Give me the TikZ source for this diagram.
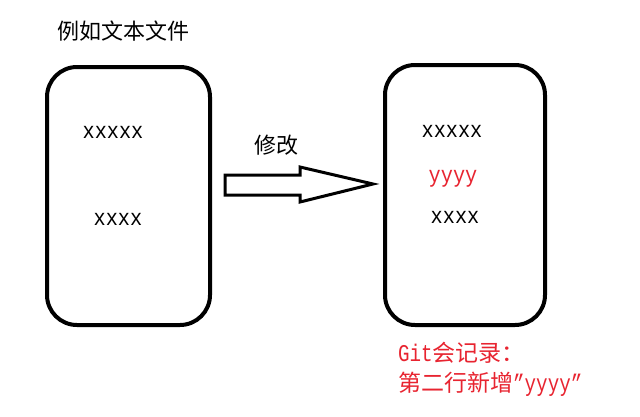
\documentclass[tikz,border=0pt]{standalone}
\usepackage{fontspec}
\setmainfont[FakeStretch=0.88]{Liberation Mono}
\newfontfamily\notemono[FakeStretch=0.8]{Liberation Mono}
\newfontfamily\cjk{Noto Sans CJK SC}
\definecolor{gitred}{RGB}{232,36,48}
\begin{document}
\begin{tikzpicture}[x=1pt,y=-1pt,
  filebox/.style={draw, line width=4pt, rounded corners=30pt, inner sep=0pt},
  code/.style={font=\fontsize{23}{26}\selectfont, inner sep=0pt, anchor=base},
  cjklabel/.style={font=\cjk\fontsize{22}{26}\selectfont, inner sep=0pt},
  note/.style={text=gitred, inner sep=0pt, anchor=base west, font=\notemono\fontsize{24}{26}\selectfont},
  blockarrow/.style={draw, line width=3pt, line join=miter, fill=white}]
\useasboundingbox (0,0) rectangle (640,416);
\fill[white] (0,0) rectangle (640,416);

% file boxes
\node[filebox, minimum width=163pt, minimum height=258pt] (before) at (128.5,196) {};
\node[filebox, minimum width=160pt, minimum height=260pt] (after) at (465,195) {};

% title
\node[cjklabel, anchor=west] (title) at (57,31) {例如文本文件};

% left contents
\node[code] (l1) at (113,138) {xxxxx};
\node[code] (l2) at (118,225) {xxxx};

% right contents
\node[code] (r1) at (452,137) {xxxxx};
\node[code, text=gitred] (r2) at (453,182) {yyyy};
\node[code] (r3) at (455,223) {xxxx};

% modify arrow
\node[cjklabel] (modify) at (276,145) {修改};
\coordinate (tip) at (373,184);
\draw[blockarrow] (225,175) -- (300,175) -- (300,167) -- (tip) -- (300,202) -- (300,195) -- (225,195) -- cycle;

% git note
\node[note] (n1) at (398,361) {Git{\cjk\fontsize{23}{26}\selectfont 会记录：}};
\node[note] (n2) at (398,391) {{\cjk\fontsize{23}{26}\selectfont 第二行新增}”yyyy”};
\end{tikzpicture}
\end{document}
